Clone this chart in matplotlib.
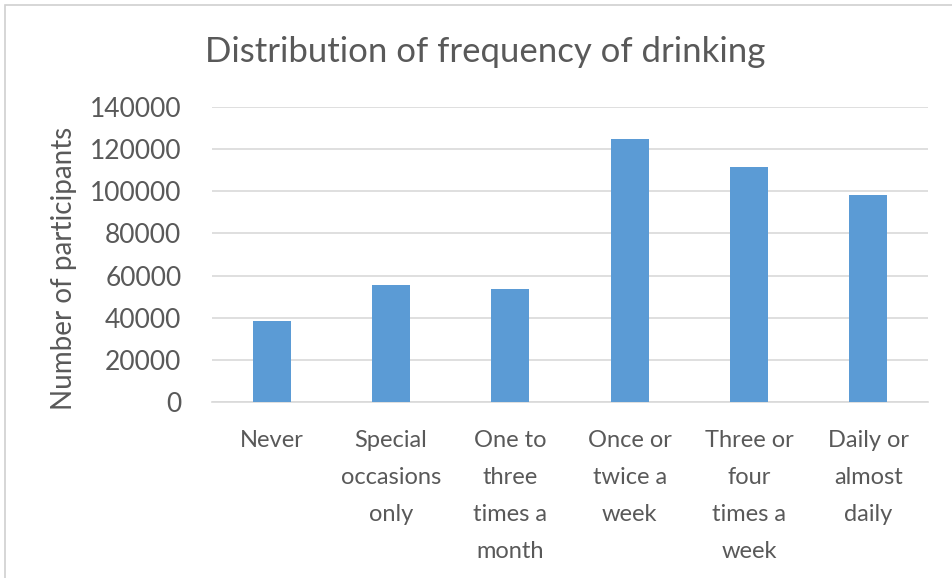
import matplotlib.pyplot as plt
from matplotlib.patches import Rectangle

# Daten
categories = ['Never', 'Special\noccasions\nonly', 'One to\nthree\ntimes a\nmonth',
              'Once or\ntwice a\nweek', 'Three or\nfour\ntimes a\nweek', 'Daily or\nalmost\ndaily']
participants = [38400, 55500, 53600, 124900, 111600, 98200]
y_ticks = [0, 20000, 40000, 60000, 80000, 100000, 120000, 140000]

plt.rcParams['font.family'] = ['Lato', 'DejaVu Sans']
text_col = '#595959'
grid_col = '#d9d9d9'

fig = plt.figure(figsize=(9.52, 5.78), dpi=100)
ax = fig.add_axes([212 / 952, 1 - 402 / 578, 716 / 952, 295 / 578])

x = range(len(categories))
ax.bar(x, participants, width=0.32, color='#5b9bd5', zorder=3)

ax.set_xlim(-0.5, len(categories) - 0.5)
ax.set_ylim(0, 140000)
ax.set_yticks(y_ticks)
ax.set_yticklabels([str(t) for t in y_ticks], fontsize=19, color=text_col)
ax.set_xticks(list(x))
ax.set_xticklabels(categories, fontsize=17, color=text_col, linespacing=1.95, va='top')
ax.tick_params(axis='y', length=0, pad=22)
ax.tick_params(axis='x', length=0, pad=20)

ax.grid(axis='y', color=grid_col, linewidth=1.2, zorder=0)
for s in ['top', 'right', 'left']:
    ax.spines[s].set_visible(False)
ax.spines['bottom'].set_color(grid_col)
ax.spines['bottom'].set_linewidth(1.2)

ax.set_ylabel('Number of participants', fontsize=20, color=text_col)
ax.yaxis.set_label_coords((64 - 212) / 716, (402 - 268) / 295)
ax.yaxis.label.set_va('center')

fig.text(485 / 952, 1 - 52 / 578, 'Distribution of frequency of drinking',
         fontsize=25, color=text_col, ha='center', va='center')

# Rahmen
fig.patches.append(Rectangle((5 / 952, -0.1), 1.2, 1 - 5 / 578 + 0.1, transform=fig.transFigure,
                             fill=False, edgecolor='#d0d0d0', linewidth=1.2))

fig.savefig('out.png', dpi=100)
